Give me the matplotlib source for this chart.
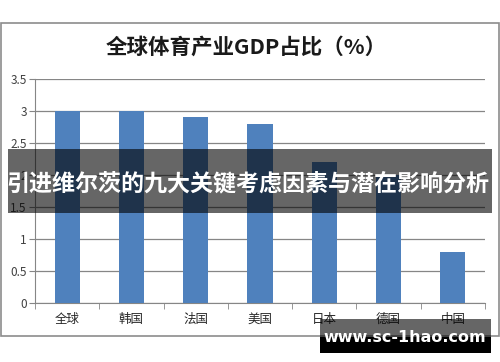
import numpy as np
import matplotlib.pyplot as plt
from matplotlib.patches import Rectangle

plt.rcParams['font.family'] = ['Noto Sans CJK SC', 'DejaVu Sans']

countries = ["全球", "韩国", "法国", "美国", "日本", "德国", "中国"]
share = [3.0, 3.0, 2.9, 2.8, 2.2, 2.0, 0.8]
yticks = [0, 0.5, 1, 1.5, 2, 2.5, 3, 3.5]
ytick_labels = ["0", "0.5", "1", "1.5", "2", "2.5", "3", "3.5"]

W, H = 500, 362
fig = plt.figure(figsize=(W / 100, H / 100), dpi=100)


def box(x0, y0, x1, y1):
    # pixel box (top-left origin) -> figure fraction
    return (x0 / W, 1 - y1 / H), (x1 - x0) / W, (y1 - y0) / H


ax = fig.add_axes([35 / W, 1 - 303 / H, 450 / W, 224 / H])
x = np.arange(len(countries))
ax.bar(x, share, width=0.39, color="#4F81BD", zorder=3)

ax.set_xlim(-0.5, len(countries) - 0.5)
ax.set_ylim(0, 3.5)
ax.set_yticks(yticks)
ax.set_yticklabels(ytick_labels, fontsize=8.5, color="#404040")
ax.set_xticks(x)
ax.set_xticklabels(countries, fontsize=9, color="#262626")
ax.set_xticks(np.arange(-0.5, len(countries)), minor=True)
ax.tick_params(axis="x", which="major", length=0, pad=7)
ax.tick_params(axis="x", which="minor", length=4, color="#868686", direction="out")
ax.tick_params(axis="y", length=4, color="#868686", pad=2)
ax.yaxis.grid(True, color="#868686", linewidth=0.9, zorder=0)
for s in ["top", "right"]:
    ax.spines[s].set_visible(False)
for s in ["left", "bottom"]:
    ax.spines[s].set_color("#868686")

# chart frame
xy, w, h = box(1, 23, 499, 336)
fig.add_artist(Rectangle(xy, w, h, transform=fig.transFigure, fill=False,
                         edgecolor="#8c8c8c", linewidth=1.2))

fig.text(246 / W, 1 - 47 / H, "全球体育产业GDP占比（%）", ha="center", va="center",
         fontsize=15.5, color="#1a1a1a", fontweight="bold")

# banner overlay
xy, w, h = box(8, 149, 492, 213)
fig.add_artist(Rectangle(xy, w, h, transform=fig.transFigure, facecolor="black",
                         alpha=0.6, edgecolor="none", zorder=10))
fig.text(248 / W, 1 - 184 / H, "引进维尔茨的九大关键考虑因素与潜在影响分析",
         ha="center", va="center", fontsize=16.6, color="white",
         fontweight="bold", zorder=11)

# watermark
xy, w, h = box(320, 319, 491, 337)
fig.add_artist(Rectangle(xy, w, h, transform=fig.transFigure, facecolor="black",
                         alpha=0.6, edgecolor="none", zorder=10))
xy, w, h = box(320, 337, 491, 353)
fig.add_artist(Rectangle(xy, w, h, transform=fig.transFigure, facecolor="black",
                         edgecolor="none", zorder=10))
fig.text(405 / W, 1 - 337 / H, "www.sc-1hao.com", ha="center", va="center",
         fontsize=11.5, color="white", fontweight="bold", family="DejaVu Sans",
         zorder=11)

fig.savefig("out.png", dpi=100)
